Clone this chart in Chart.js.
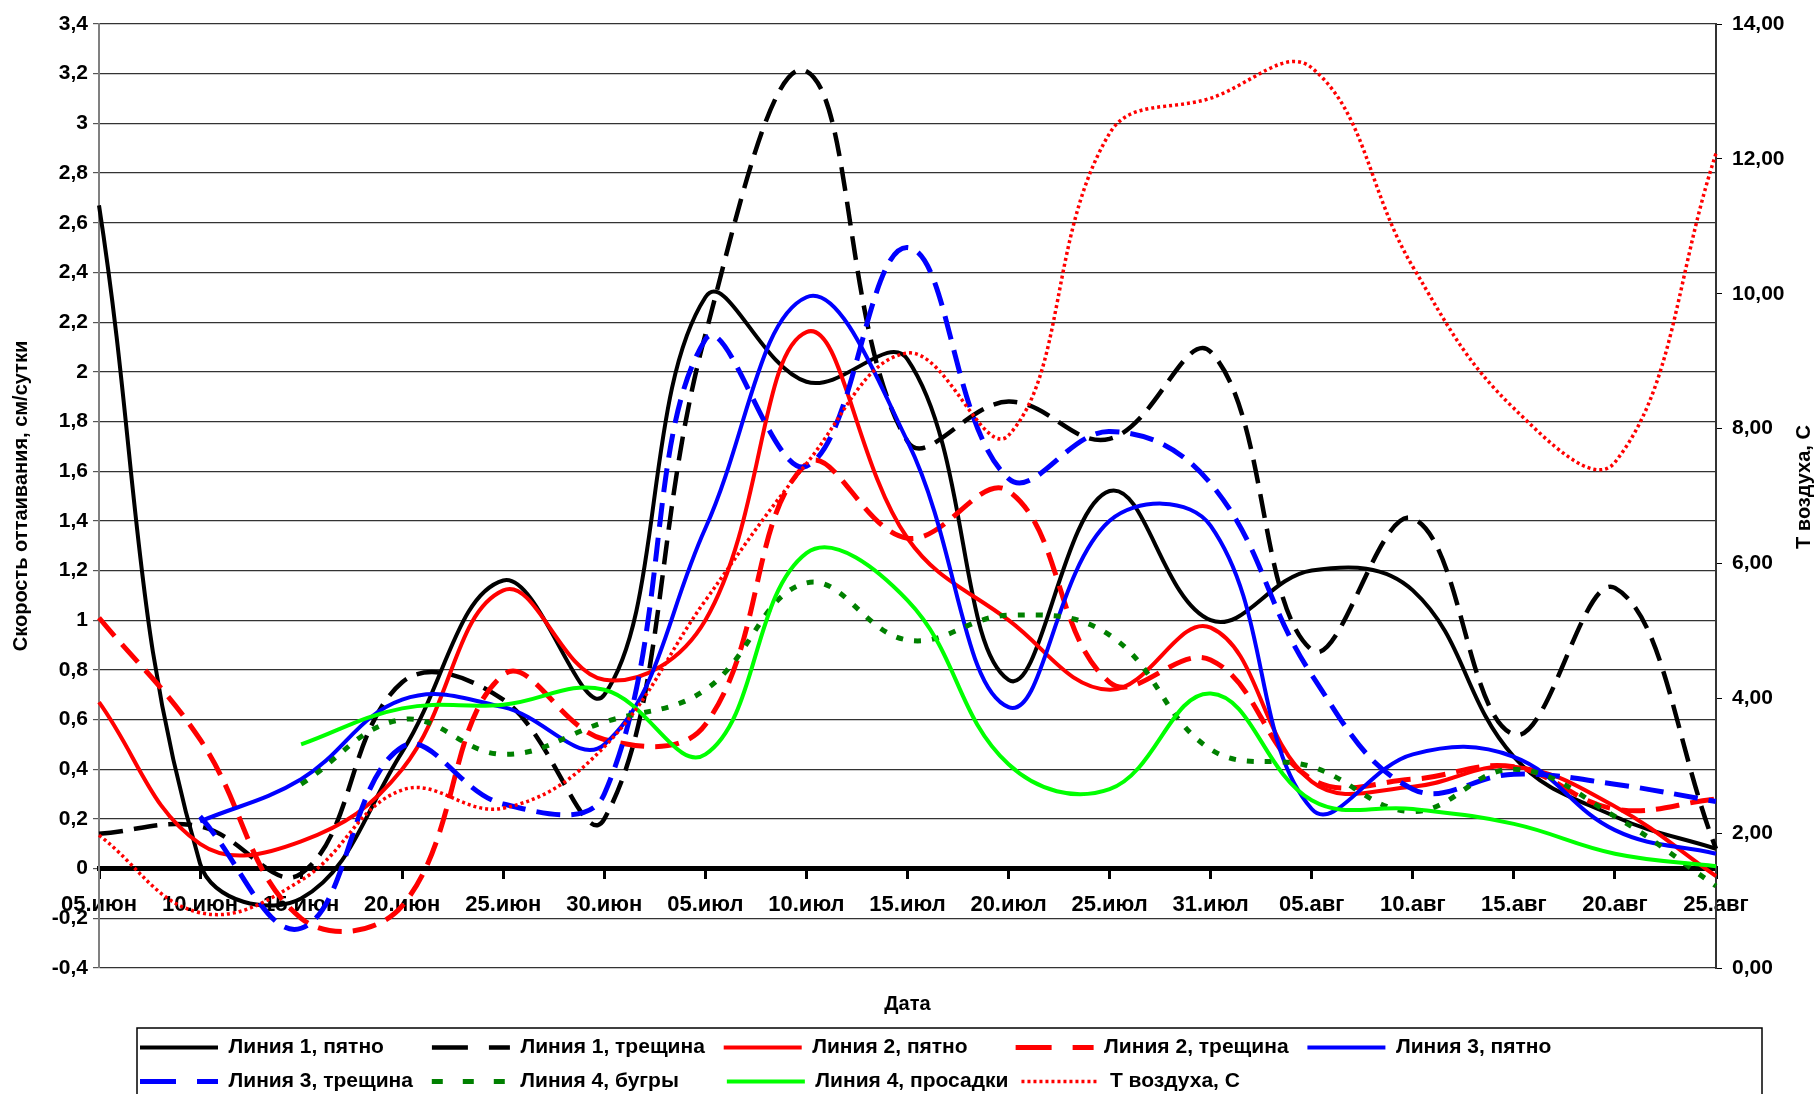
<!DOCTYPE html>
<html>
<head>
<meta charset="utf-8">
<script src="https://cdn.jsdelivr.net/npm/chart.js@4.4.1/dist/chart.umd.min.js"></script>
<style>
  html, body { margin: 0; padding: 0; background: #fff; }
  #wrap { width: 1818px; height: 1094px; position: relative; }
</style>
</head>
<body>
<div id="wrap"><canvas id="thawChart"></canvas></div>
<script>
const dates = ['05.июн', '10.июн', '15.июн', '20.июн', '25.июн', '30.июн', '05.июл', '10.июл', '15.июл',
  '20.июл', '25.июл', '31.июл', '05.авг', '10.авг', '15.авг', '20.авг', '25.авг'];

// скорость оттаивания, см/сутки
const line1Spot = [2.67, 0.02, -0.12, 0.47, 1.16, 0.70, 2.30, 1.96, 2.05, 0.76, 1.52, 1.00, 1.20, 1.12, 0.45, 0.21, 0.08];
const line1Crack = [0.14, 0.17, -0.02, 0.75, 0.68, 0.20, 2.15, 3.21, 1.72, 1.88, 1.73, 2.08, 0.88, 1.41, 0.54, 1.13, 0.08];
const line2Spot = [0.67, 0.10, 0.11, 0.40, 1.12, 0.76, 1.00, 2.16, 1.33, 1.00, 0.72, 0.97, 0.35, 0.33, 0.41, 0.25, -0.03];
const line2Crack = [1.01, 0.52, -0.20, -0.15, 0.78, 0.52, 0.58, 1.63, 1.33, 1.52, 0.75, 0.84, 0.36, 0.36, 0.41, 0.24, 0.28];
const line3Spot = [null, 0.19, 0.36, 0.68, 0.65, 0.50, 1.37, 2.30, 1.72, 0.65, 1.40, 1.38, 0.24, 0.46, 0.45, 0.155, 0.06];
const line3Crack = [null, 0.21, -0.24, 0.49, 0.26, 0.30, 2.13, 1.62, 2.50, 1.57, 1.76, 1.55, 0.78, 0.32, 0.38, 0.34, 0.27];
const line4Hummock = [null, null, 0.34, 0.60, 0.46, 0.59, 0.72, 1.15, 0.92, 1.02, 0.94, 0.48, 0.41, 0.23, 0.40, 0.21, -0.07];
const line4Sink = [null, null, 0.50, 0.645, 0.66, 0.72, 0.46, 1.27, 1.08, 0.42, 0.32, 0.705, 0.275, 0.24, 0.18, 0.06, 0.01];
// температура воздуха, С (правая ось)
const airTemp = [1.97, 0.82, 1.30, 2.64, 2.37, 3.28, 5.45, 7.48, 9.12, 7.90, 12.38, 12.90, 13.35, 10.40, 8.30, 7.50, 12.08];

const FONT = '"Liberation Sans", Arial, sans-serif';
Chart.defaults.font.family = FONT;
Chart.defaults.font.weight = 'bold';
Chart.defaults.color = '#000';

// pad legend texts to one width so the items line up in columns like the Excel legend
const measureCtx = document.createElement('canvas').getContext('2d');
measureCtx.font = 'bold 21px ' + FONT;
function padLabel(text, width) {
  let s = text;
  while (measureCtx.measureText(s).width < width) s += ' ';
  return s;
}

let n = 0;
function series(label, data, color, width, dash, legendDash, axis) {
  const idx = n++;
  return {
    label: padLabel(label, 188),
    data: data,
    borderColor: color,
    backgroundColor: color,
    borderWidth: width,
    borderDash: dash,
    legendDash: legendDash,
    pointRadius: 0,
    tension: 0.4,
    fill: false,
    yAxisID: axis || 'y',
    order: 20 - idx   // later series on top, as in Excel
  };
}

const datasets = [
  series('Линия 1, пятно', line1Spot, '#000000', 4, [], []),
  series('Линия 1, трещина', line1Crack, '#000000', 4.5, [24, 11], [36, 21]),
  series('Линия 2, пятно', line2Spot, '#ff0000', 4, [], []),
  series('Линия 2, трещина', line2Crack, '#ff0000', 5, [24, 11], [36, 21]),
  series('Линия 3, пятно', line3Spot, '#0000ff', 4, [], []),
  series('Линия 3, трещина', line3Crack, '#0000ff', 5, [24, 11], [36, 21]),
  series('Линия 4, бугры', line4Hummock, '#008000', 5, [7, 11], [11, 20]),
  series('Линия 4, просадки', line4Sink, '#00ff00', 4, [], []),
  series('Т воздуха, С', airTemp, '#ff0000', 3.5, [3, 3], [3, 3], 'y2')
];

const legendFrame = {
  id: 'legendFrame',
  afterLayout(chart) {
    const lg = chart.legend;
    lg.left += 28;
    lg.right += 28;
  },
  afterDraw(chart) {
    const lg = chart.legend;
    const ctx = chart.ctx;
    ctx.save();
    ctx.strokeStyle = '#000';
    ctx.lineWidth = 1.5;
    ctx.strokeRect(lg.left + 10, lg.top + 4, 1625, lg.height + 20);
    ctx.restore();
  }
};

const rightTitle = {
  id: 'rightTitle',
  afterDraw(chart) {
    const {ctx, chartArea} = chart;
    ctx.save();
    ctx.translate(chart.width - 14, (chartArea.top + chartArea.bottom) / 2 - 9);
    ctx.rotate(-Math.PI / 2);
    ctx.font = 'bold 20px ' + FONT;
    ctx.fillStyle = '#000';
    ctx.textAlign = 'center';
    ctx.textBaseline = 'middle';
    ctx.fillText('Т воздуха, С', 0, 0);
    ctx.restore();
  }
};

const ctx = document.getElementById('thawChart').getContext('2d');
const thawChart = new Chart(ctx, {
  type: 'line',
  data: { labels: dates, datasets: datasets },
  options: {
    responsive: true,
    maintainAspectRatio: false,
    animation: false,
    devicePixelRatio: 1,
    layout: { padding: { top: 24, left: 0, right: 0, bottom: 0 } },
    plugins: {
      tooltip: { enabled: false },
      legend: {
        position: 'bottom',
        fullSize: false,
        align: 'start',
        maxHeight: 70,
        labels: {
          usePointStyle: true,
          pointStyle: 'line',
          pointStyleWidth: 78,
          padding: 13,
          color: '#000',
          font: { size: 21, weight: 'bold' },
          sort: (a, b) => a.datasetIndex - b.datasetIndex,
          generateLabels(chart) {
            const items = Chart.defaults.plugins.legend.labels.generateLabels(chart);
            items.forEach(it => {
              const ds = chart.data.datasets[it.datasetIndex];
              it.lineDash = ds.legendDash;
              it.lineWidth = ds.borderWidth;
              it.strokeStyle = ds.borderColor;
              it.pointStyle = 'line';
            });
            return items;
          }
        }
      }
    },
    scales: {
      x: {
        type: 'category',
        position: { y: 0 },
        afterFit(s) { s.height = 0; },
        grid: { drawOnChartArea: false, drawTicks: true, tickLength: 8, color: '#000', lineWidth: 3 },
        border: { color: '#000', width: 5 },
        ticks: { autoSkip: false, maxRotation: 0, padding: 15, color: '#000', font: { size: 22, weight: 'bold' } }
      },
      xTitle: {
        type: 'category',
        axis: 'x',
        position: 'bottom',
        afterFit(s) { s.height = 56; },
        grid: { display: false },
        border: { display: false },
        ticks: { display: false },
        title: { display: true, text: 'Дата', color: '#000', font: { size: 20, weight: 'bold' }, padding: { top: 0, bottom: 8 } }
      },
      y: {
        position: 'left',
        min: -0.4,
        max: 3.4,
        afterFit(s) { s.width = 99; },
        grid: { color: '#333', lineWidth: 1.2, tickLength: 6, tickColor: '#555' },
        border: { color: '#808080', width: 2 },
        ticks: {
          stepSize: 0.2,
          padding: 5,
          color: '#000',
          font: { size: 21, weight: 'bold' },
          callback: v => String(Math.round(v * 10) / 10).replace('.', ',')
        },
        title: {
          display: true,
          text: 'Скорость оттаивания, см/сутки',
          color: '#000',
          font: { size: 20, weight: 'bold' },
          padding: { top: 9, bottom: 0 }
        }
      },
      y2: {
        position: 'right',
        min: 0,
        max: 14,
        afterFit(s) { s.width = 102; },
        grid: { drawOnChartArea: false, tickLength: 6, color: '#000' },
        border: { color: '#333', width: 2 },
        ticks: {
          stepSize: 2,
          padding: 10,
          color: '#000',
          font: { size: 21, weight: 'bold' },
          callback: v => v.toFixed(2).replace('.', ',')
        }
      }
    }
  },
  plugins: [legendFrame, rightTitle]
});
</script>
</body>
</html>
